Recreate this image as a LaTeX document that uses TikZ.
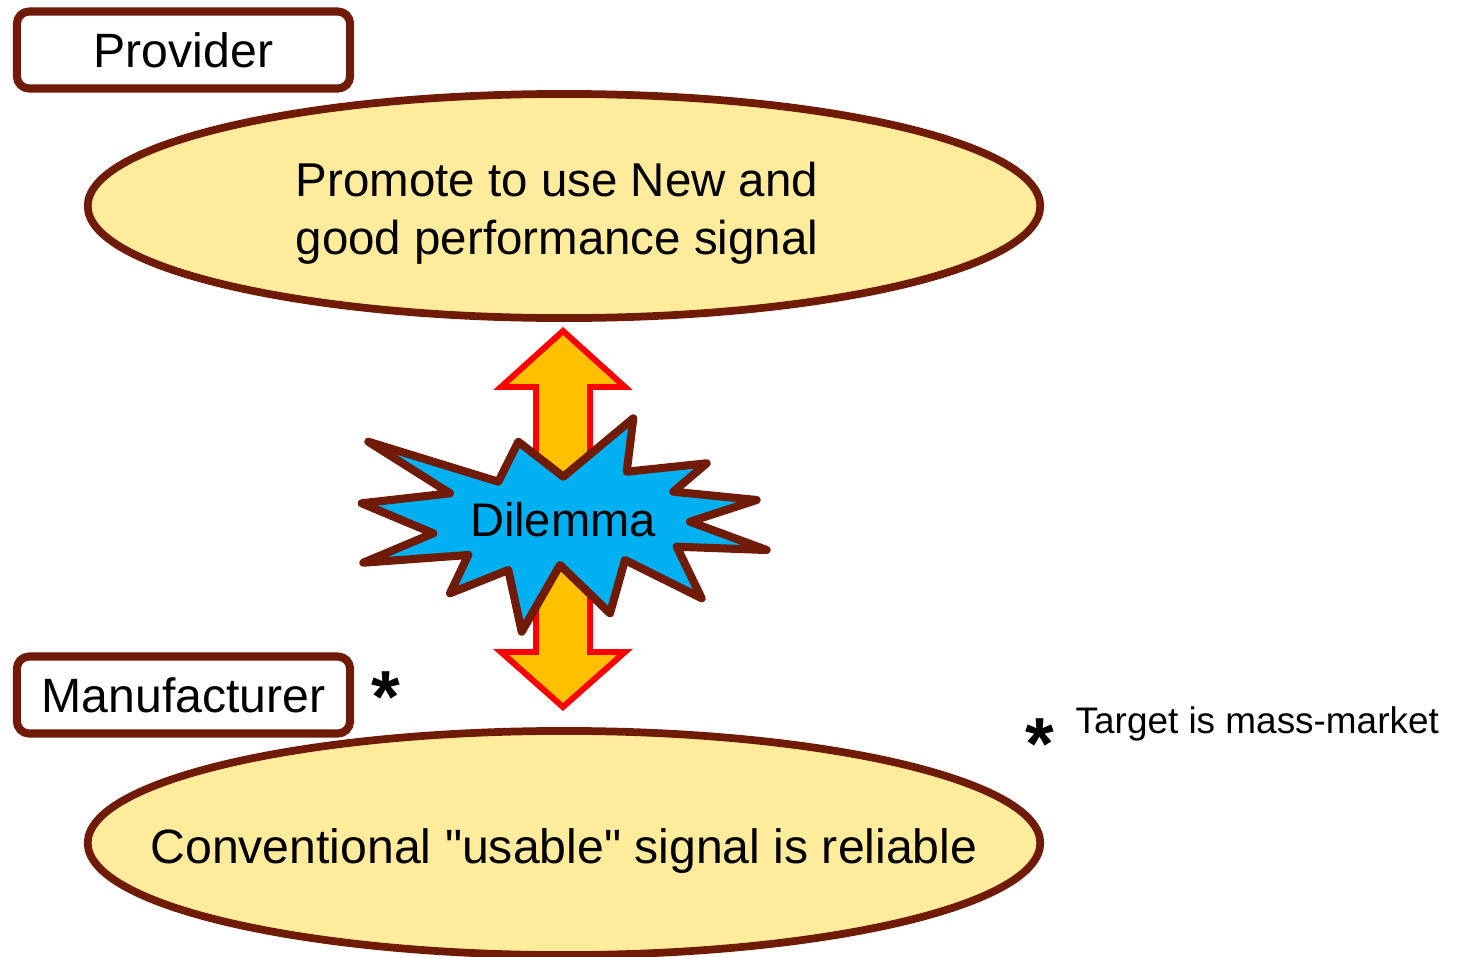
\documentclass[tikz,border=0pt]{standalone}
\usepackage{fontspec}
\setmainfont{Liberation Sans}[Ligatures=TeXOff]
\usetikzlibrary{shapes.geometric}
\definecolor{rim}{RGB}{112,26,8}
\definecolor{cream}{RGB}{255,235,156}
\definecolor{sky}{RGB}{0,176,240}
\definecolor{amber}{RGB}{255,192,0}

\begin{document}
\begin{tikzpicture}[x=0.01cm,y=-0.01cm]
            \tikzstyle{every node}+=[inner sep=0pt]
            \tikzstyle{role}=[draw=rim, line width=2.3pt, rounded corners=3.5pt, fill=white, minimum width=3.33cm, minimum height=0.77cm, font=\fontsize{13.7}{16}\selectfont]
            \tikzstyle{claim}=[ellipse, draw=rim, line width=2.2pt, fill=cream, minimum width=9.52cm, minimum height=2.24cm]
            \tikzstyle{claimtext}=[align=center, font=\fontsize{13.5}{16.5}\selectfont]
            \tikzstyle{starmark}=[font=\fontsize{21}{21}\selectfont\bfseries, anchor=base]
            \useasboundingbox (0,0) rectangle (1459,957);
            % boxes and statements
            \node [role] (provider) at (183.5,50) {Provider};
            \node [role] (maker) at (183.5,695) {Manufacturer};
            \node [claim] (promote) at (564,206) {};
            \node [claim] (usable) at (564,843) {};
            \node [claimtext] (promote text) at ([xshift=-0.07cm,yshift=-0.07cm]promote.center) {Promote to use New and\\good performance signal};
            \node [claimtext, font=\fontsize{13.7}{16.5}\selectfont] (usable text) at ([yshift=-0.08cm]usable.center) {Conventional "usable" signal is reliable};
            % double arrow
            \draw [red, line width=1.7pt, fill=amber, line join=miter] (563,331) -- (625,387) -- (590,387) -- (590,652) -- (625,652) -- (563,707) -- (501,652) -- (536,652) -- (536,387) -- (501,387) -- cycle;
            % burst
            \draw [rim, line width=2.3pt, fill=sky, line join=round] (368.3,441.7) -- (498.3,481.7) -- (518.3,441.7) -- (563.3,476.7) -- (633.3,418.3) -- (626.7,471.7) -- (706.7,463.3) -- (673.3,491.7) -- (756.7,500) -- (690,521.7) -- (766.7,550) -- (676.7,546.7) -- (701.7,598.3) -- (625,560) -- (610,613.3) -- (560,565) -- (521.7,631.7) -- (508.3,570) -- (450,593.3) -- (468.3,555) -- (363.3,562.7) -- (433.3,533.3) -- (361.7,503.3) -- (450,493.3) -- cycle;
            \node [font=\fontsize{13.4}{16}\selectfont] (dilemma) at (563,520) {Dilemma};
            % footnote
            \node [starmark] (star) at (386,722) {*};
            \node [starmark] (note star) at (1040,769) {*};
            \node [anchor=base west, font=\fontsize{10.5}{12}\selectfont] (note) at (1075,733) {Target is mass-market};
\end{tikzpicture}
\end{document}
